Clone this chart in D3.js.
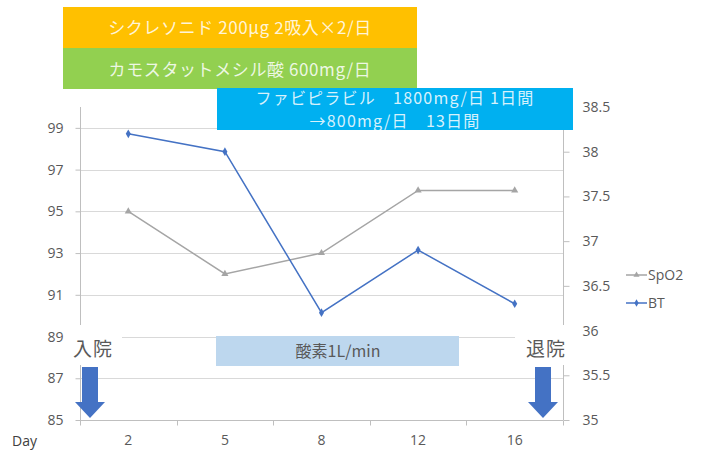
<!DOCTYPE html>
<html><head><meta charset="utf-8">
<script src="https://cdn.jsdelivr.net/npm/d3@7"></script>
<style>
html,body{margin:0;padding:0;background:#fff;}
svg{display:block;}
</style></head>
<body>
<script>
// ---- data ----
const days = ["2", "5", "8", "12", "16"];
const spo2 = [95, 92, 93, 96, 96];
const bt = [38.2, 38.0, 36.2, 36.9, 36.3];
const spo2Ticks = [85, 87, 89, 91, 93, 95, 97, 99];
const btTicks = [35, 35.5, 36, 36.5, 37, 37.5, 38, 38.5];
const seriesNames = ["SpO2", "BT"];
const drugLabels = ["シクレソニド 200μg 2吸入×2/日", "カモスタットメシル酸 600mg/日"];
const favipiravirLines = ["ファビピラビル　1800mg/日 1日間", "→800mg/日　13日間"];
const oxygenLabel = "酸素1L/min";
const admitLabel = "入院";
const dischargeLabel = "退院";
const xAxisTitle = "Day";

(function () {
const W = 724, H = 459;
const pL = 80, pR = 563, pT = 107, pB = 420;
const font = "'Noto Sans CJK JP', 'Noto Sans', sans-serif";
const latin = "'Open Sans', 'Noto Sans', sans-serif";
const txt = "#595959";

const svg = d3.select("body").append("svg").attr("width", W).attr("height", H);

const x = d3.scaleBand().domain(days).range([pL, pR]);
const yL = d3.scaleLinear().domain([85, 100]).range([pB, pT]);
const yR = d3.scaleLinear().domain([35, 38.5]).range([pB, pT]);

// gridlines
svg.append("g").selectAll("line").data(spo2Ticks.filter(d => d > 85)).join("line")
  .attr("x1", pL).attr("x2", pR)
  .attr("y1", d => Math.round(yL(d)) + 0.5).attr("y2", d => Math.round(yL(d)) + 0.5)
  .attr("stroke", "#D9D9D9").attr("stroke-width", 1);

// left axis
const gL = svg.append("g").attr("transform", `translate(${pL + 0.5},0)`)
  .call(d3.axisLeft(yL).tickValues(spo2Ticks).tickSize(5).tickPadding(12).tickFormat(d3.format("d")));
// right axis
const gR = svg.append("g").attr("transform", `translate(${pR + 0.5},0)`)
  .call(d3.axisRight(yR).tickValues(btTicks).tickSize(6).tickPadding(13).tickFormat(d => d));
// x axis
const xTickPos = days.map(d => x(d)).concat([pR]);
const gX = svg.append("g").attr("transform", `translate(0,${pB + 0.5})`)
  .call(d3.axisBottom(x).tickSize(0).tickPadding(15));
gX.selectAll(".xt").data(xTickPos).join("line").attr("class", "xt")
  .attr("x1", d => Math.round(d) + 0.5).attr("x2", d => Math.round(d) + 0.5)
  .attr("y1", 0).attr("y2", 5).attr("stroke", "#BFBFBF");

[gL, gR, gX].forEach(g => {
  g.selectAll(".domain").attr("stroke", "#BFBFBF");
  g.selectAll(".tick line").attr("stroke", "#BFBFBF");
  g.selectAll("text").attr("fill", txt).style("font-family", latin).style("font-size", "14px");
});
gL.select(".domain").attr("d", `M0,${pB}V${pT}`);
gR.select(".domain").attr("d", `M0,${pB}V${pT}`);
gX.select(".domain").attr("d", `M${pL},0H${pR}`);

svg.append("text").attr("x", 12).attr("y", 446).text(xAxisTitle)
  .attr("fill", "#404040").style("font-family", latin).style("font-size", "14px");

// series
const cx = d => x(d) + x.bandwidth() / 2;
const lineL = d3.line().x((d, i) => cx(days[i])).y(d => yL(d));
const lineR = d3.line().x((d, i) => cx(days[i])).y(d => yR(d));
svg.append("path").datum(spo2).attr("d", lineL).attr("fill", "none").attr("stroke", "#A5A5A5").attr("stroke-width", 1.5);
svg.append("path").datum(bt).attr("d", lineR).attr("fill", "none").attr("stroke", "#4472C4").attr("stroke-width", 1.5);
svg.append("g").selectAll("path").data(spo2).join("path")
  .attr("transform", (d, i) => `translate(${cx(days[i])},${yL(d)})`)
  .attr("d", d3.symbol(d3.symbolTriangle, 22)).attr("fill", "#A5A5A5");
svg.append("g").selectAll("path").data(bt).join("path")
  .attr("transform", (d, i) => `translate(${cx(days[i])},${yR(d)})`)
  .attr("d", d3.symbol(d3.symbolDiamond, 22)).attr("fill", "#4472C4");

// legend
const legColors = ["#A5A5A5", "#4472C4"];
const legSyms = [d3.symbolTriangle, d3.symbolDiamond];
const leg = svg.append("g").selectAll("g").data(seriesNames).join("g")
  .attr("transform", (d, i) => `translate(626,${275 + i * 28})`);
leg.append("line").attr("x1", 0).attr("x2", 21).attr("stroke", (d, i) => legColors[i]).attr("stroke-width", 1.5);
leg.append("path").attr("transform", "translate(10.5,0)").attr("d", (d, i) => d3.symbol(legSyms[i], 16)()).attr("fill", (d, i) => legColors[i]);
leg.append("text").attr("x", 22).attr("dy", "0.35em").text(d => d)
  .attr("fill", txt).style("font-family", latin).style("font-size", "14px");

// annotation boxes
const boxFont = (sel, size) => sel.style("font-family", font).style("font-size", size + "px");
const drugColors = ["#FFC000", "#92D050"];
drugLabels.forEach((t, i) => {
  svg.append("rect").attr("x", 63).attr("y", 7 + i * 41).attr("width", 354).attr("height", 41).attr("fill", drugColors[i]);
  boxFont(svg.append("text").attr("x", 240).attr("y", 28 + i * 42).attr("dy", "0.35em")
    .attr("text-anchor", "middle").attr("fill", "#FFFFFF").attr("fill-opacity", 0.85)
    .style("letter-spacing", "0.6px").text(t), 17);
});
svg.append("rect").attr("x", 217).attr("y", 88).attr("width", 356).attr("height", 42).attr("fill", "#00B0F0");
favipiravirLines.forEach((t, i) => {
  boxFont(svg.append("text").attr("x", 395).attr("y", 98 + i * 23).attr("dy", "0.35em")
    .attr("text-anchor", "middle").attr("fill", "#FFFFFF").attr("fill-opacity", 0.85)
    .style("letter-spacing", "1.2px").text(t), 16);
});
svg.append("rect").attr("x", 216).attr("y", 336).attr("width", 243).attr("height", 30).attr("fill", "#BDD7EE");
boxFont(svg.append("text").attr("x", 338).attr("y", 351).attr("dy", "0.35em")
  .attr("text-anchor", "middle").attr("fill", txt).text(oxygenLabel), 16);

// admission / discharge
const marks = [{label: admitLabel, cx: 90, bx: 68, bw: 54}, {label: dischargeLabel, cx: 543, bx: 515, bw: 55}];
marks.forEach(m => {
  svg.append("rect").attr("x", m.bx).attr("y", 325).attr("width", m.bw).attr("height", 40).attr("fill", "#fff");
  boxFont(svg.append("text").attr("x", m.cx + 3).attr("y", 349).attr("dy", "0.35em")
    .attr("text-anchor", "middle").attr("fill", txt).style("letter-spacing", "1px").text(m.label), 19);
  const c = m.cx;
  svg.append("path").attr("d",
    `M${c - 8},367 H${c + 8} V402 H${c + 15} L${c},418 L${c - 15},402 H${c - 8} Z`)
    .attr("fill", "#4472C4");
});
})();
</script>
</body></html>
